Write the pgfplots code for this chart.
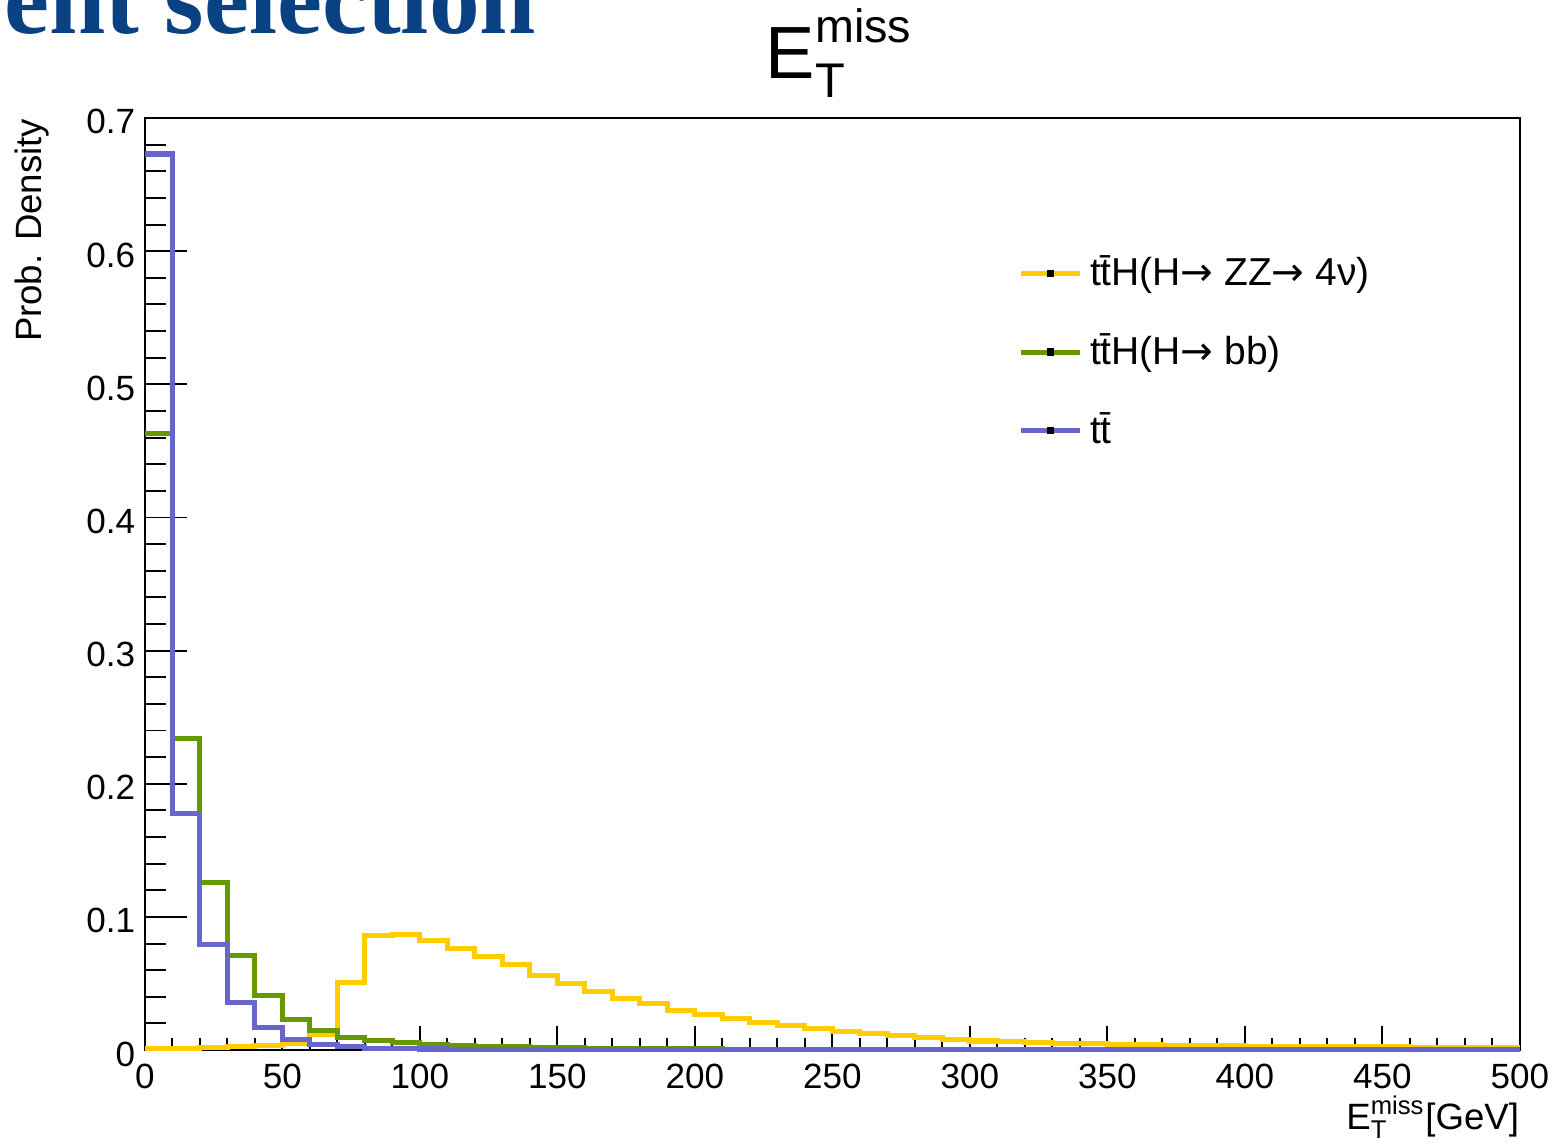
\documentclass[border=0pt]{standalone}
\usepackage{pgfplots}
\pgfplotsset{compat=1.18}
\usepackage{amsmath}
\usepackage{fontspec}
\setmainfont{Liberation Sans}
\newfontfamily\slidefont{Liberation Serif}
\newfontfamily\arrowfont{DejaVu Sans}

\definecolor{ttzz}{RGB}{255,204,0}
\definecolor{ttbb}{RGB}{102,153,0}
\definecolor{ttbar}{RGB}{102,102,204}
\definecolor{slideblue}{RGB}{10,65,130}

\newcommand{\met}{E\ensuremath{^{\text{miss}}_{\text{T}}}}
\newcommand{\arr}{{\arrowfont →}}

\begin{document}
\begin{tikzpicture}
\begin{axis}[
  at={(0,0)}, anchor=south west,
  scale only axis,
  width=353pt, height=239.3pt,
  xmin=0, xmax=500, ymin=0, ymax=0.7,
  clip=false,
  axis line style={line width=0.5pt},
  xtick={0,50,...,500},
  ytick={0,0.1,0.2,0.3,0.4,0.5,0.6,0.7},
  minor x tick num=4, minor y tick num=4,
  xtick pos=bottom, ytick pos=left,
  tick align=inside,
  xtick style={line width=0.5pt,black,/pgfplots/major tick length=6.2pt,/pgfplots/minor tick length=3pt},
  ytick style={line width=0.5pt,black,/pgfplots/major tick length=10.8pt,/pgfplots/minor tick length=5.4pt},
  /pgf/number format/assume math mode=true,
  yticklabel style={/pgf/number format/fixed,/pgf/number format/precision=1, xshift=1pt, yshift=-1pt},
  ticklabel style={font=\fontsize{9}{10}\selectfont},
  xlabel={\met[GeV]},
  xlabel style={at={(axis description cs:1,0)}, anchor=north east, inner sep=0pt, yshift=-11.5pt, font=\fontsize{9.4}{10}\selectfont},
  ylabel={Prob. Density},
  ylabel style={at={(axis description cs:-0.069,1)}, anchor=south east, inner sep=0pt, font=\fontsize{9.4}{10}\selectfont},
  legend cell align=left,
  legend style={at={(axis description cs:0.635,0.862)}, anchor=north west, draw=none, fill=none,
    font=\fontsize{10}{11}\selectfont, row sep=6.8pt, inner sep=0pt},
  legend image code/.code={\draw[line width=1.3pt] (0pt,0pt) -- (15pt,0pt);
    \fill[black] (7.3pt,-0.3pt) rectangle (7.7pt,0.3pt);},
]
% ttH(H->ZZ->4nu)
\addplot[const plot mark left, ttzz, line width=1.3pt] coordinates {
(0,0.001) (10,0.0012) (20,0.0018) (30,0.0025) (40,0.0035) (50,0.005) (60,0.012)
(70,0.051) (80,0.086) (90,0.087) (100,0.082) (110,0.076) (120,0.070) (130,0.064)
(140,0.056) (150,0.050) (160,0.044) (170,0.039) (180,0.035) (190,0.030)
(200,0.027) (210,0.024) (220,0.021) (230,0.0185) (240,0.016) (250,0.014)
(260,0.0125) (270,0.011) (280,0.0092) (290,0.0080) (300,0.0068) (310,0.0062)
(320,0.0056) (330,0.0051) (340,0.0046) (350,0.0042) (360,0.0039) (370,0.0036)
(380,0.0034) (390,0.0032) (400,0.0030) (410,0.0028) (420,0.0027) (430,0.0025)
(440,0.0024) (450,0.0023) (460,0.0022) (470,0.0020) (480,0.0019) (490,0.0018)
(500,0.0018)
};
\addlegendentry{t\=tH(H\arr\ ZZ\arr\ 4ν)}
% ttH(H->bb)
\addplot[const plot mark left, ttbb, line width=1.3pt] coordinates {
(0,0.463) (10,0.234) (20,0.126) (30,0.071) (40,0.041) (50,0.023) (60,0.015)
(70,0.0095) (80,0.0075) (90,0.006) (100,0.0045) (110,0.0037) (120,0.003)
(130,0.0025) (140,0.002) (150,0.0017) (160,0.0014) (170,0.0012) (180,0.001)
(190,0.0009) (200,0.0008) (210,0.0007) (220,0.0006) (230,0.0005) (240,0.0005)
(250,0.0004) (260,0.0004) (270,0.0003) (280,0.0003) (290,0.0003) (300,0.0002)
(350,0.0002) (400,0.0001) (450,0.0001) (500,0.0001)
};
\addlegendentry{t\=tH(H\arr\ bb)}
% ttbar
\addplot[const plot mark left, ttbar, line width=1.3pt] coordinates {
(0,0.673) (10,0.178) (20,0.079) (30,0.036) (40,0.017) (50,0.008) (60,0.004)
(70,0.0025) (80,0.0015) (90,0.001) (100,0.0008) (110,0.0006) (120,0.0005)
(130,0.0004) (140,0.0003) (150,0.0003) (160,0.0002) (200,0.0001) (300,0.0001)
(400,0.0001) (500,0.0001)
};
\addlegendentry{t\=t}
\end{axis}
% histogram title
\node[anchor=base west, inner sep=0pt] at (159.2pt,249.5pt)
  {\fontsize{19}{20}\selectfont E\rlap{\raisebox{9.3pt}{\fontsize{12}{13}\selectfont miss}}\raisebox{-5pt}{\fontsize{12.5}{13}\selectfont T}};
\node[anchor=base east, inner sep=0pt, text=slideblue, font=\slidefont\bfseries\fontsize{26}{28}\selectfont]
  at (100.6pt,261.1pt) {Event selection};
\pgfresetboundingbox
\path[use as bounding box] (-37.2pt,-24.1pt) rectangle (362.8pt,269.6pt);
\end{tikzpicture}
\end{document}
